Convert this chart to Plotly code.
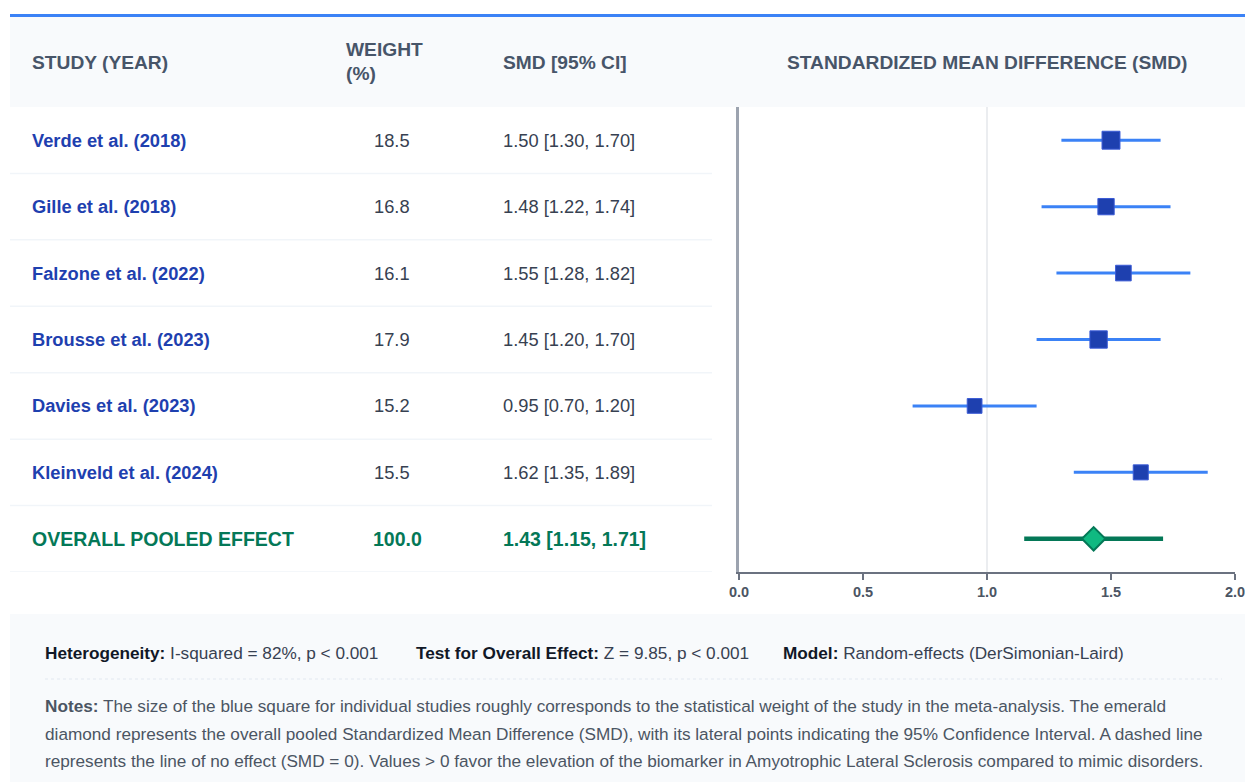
import plotly.graph_objects as go

# ---- data ----
studies = ["Verde et al. (2018)", "Gille et al. (2018)", "Falzone et al. (2022)",
           "Brousse et al. (2023)", "Davies et al. (2023)", "Kleinveld et al. (2024)"]
weights = [18.5, 16.8, 16.1, 17.9, 15.2, 15.5]
smd = [1.50, 1.48, 1.55, 1.45, 0.95, 1.62]
ci_low = [1.30, 1.22, 1.28, 1.20, 0.70, 1.35]
ci_high = [1.70, 1.74, 1.82, 1.70, 1.20, 1.89]

pooled_label = "OVERALL POOLED EFFECT"
pooled_weight = 100.0
pooled_smd = 1.43
pooled_low = 1.15
pooled_high = 1.71

x_ticks = [0.0, 0.5, 1.0, 1.5, 2.0]

W, H = 1245, 782
FONT = "Liberation Sans, Arial, Helvetica, sans-serif"

# the drawing surface sits 10px in from the page edge and is 1225px wide
PAGE_X0, PAGE_W = 10, 1225


def px(x):
    return (x - PAGE_X0) / PAGE_W


def py(y):
    return 1 - y / H


rows = list(range(len(studies)))
pooled_row = len(studies)

fig = go.Figure()

# individual study estimates with CI whiskers
fig.add_trace(go.Scatter(
    x=smd, y=rows, mode="markers",
    marker=dict(symbol="square", size=[w * 0.97 for w in weights], color="#1e40af", opacity=1,
                line=dict(color="#3b5bd6", width=1)),
    error_x=dict(type="data", symmetric=False,
                 array=[h - m for h, m in zip(ci_high, smd)],
                 arrayminus=[m - l for m, l in zip(smd, ci_low)],
                 color="#3b82f6", thickness=3, width=0),
    hoverinfo="skip", showlegend=False,
))

# pooled estimate
fig.add_trace(go.Scatter(
    x=[pooled_smd], y=[pooled_row], mode="markers",
    marker=dict(symbol="diamond", size=18, color="#10b981", opacity=1,
                line=dict(color="#047857", width=2)),
    error_x=dict(type="data", symmetric=False,
                 array=[pooled_high - pooled_smd], arrayminus=[pooled_smd - pooled_low],
                 color="#047857", thickness=4.5, width=0),
    hoverinfo="skip", showlegend=False,
))

shapes = []
# top accent line and header band
shapes.append(dict(type="rect", xref="paper", yref="paper", x0=px(10), x1=px(1245), y0=py(107), y1=py(17),
                   fillcolor="#f8fafc", line_width=0, layer="below"))
shapes.append(dict(type="line", xref="paper", yref="paper", x0=px(10), x1=px(1245), y0=py(15.5), y1=py(15.5),
                   line=dict(color="#3b82f6", width=3)))
# footer band
shapes.append(dict(type="rect", xref="paper", yref="paper", x0=px(10), x1=px(1245), y0=0, y1=py(614),
                   fillcolor="#f8fafc", line_width=0, layer="below"))
shapes.append(dict(type="line", xref="paper", yref="paper", x0=px(45), x1=px(1222), y0=py(679), y1=py(679),
                   line=dict(color="#e2e8f0", width=1, dash="dot")))
# row separators in the table
for i in range(len(studies) + 1):
    shapes.append(dict(type="line", xref="paper", yref="y", x0=px(10), x1=px(712), y0=i + 0.5, y1=i + 0.5,
                       line=dict(color="#f1f5f9", width=1.5), layer="below"))
# reference line at SMD = 1
shapes.append(dict(type="line", xref="x", yref="paper", x0=1, x1=1, y0=py(572), y1=py(107),
                   line=dict(color="#e5e7eb", width=1.5), layer="below"))

annotations = []


def txt(x, y, text, size=15, color="#374151", bold=False, yref="paper", xanchor="left"):
    annotations.append(dict(
        x=px(x), y=y, xref="paper", yref=yref, text=text, showarrow=False,
        xanchor=xanchor, yanchor="middle", borderpad=0, borderwidth=0,
        font=dict(family=FONT, size=size, color=color, weight="bold" if bold else "normal"),
    ))


# headers
HEAD = "#475569"
HS = 19.2
txt(32, py(62), "STUDY (YEAR)", size=HS, color=HEAD, bold=True)
txt(346, py(50), "WEIGHT", size=HS, color=HEAD, bold=True)
txt(346, py(73), "(%)", size=HS, color=HEAD, bold=True)
txt(503, py(62), "SMD [95% CI]", size=HS, color=HEAD, bold=True)
txt(987, py(62), "STANDARDIZED MEAN DIFFERENCE (SMD)", size=HS, color=HEAD, bold=True,
    xanchor="center")

# table rows
RS = 18.3
for i, (name, w, m, lo, hi) in enumerate(zip(studies, weights, smd, ci_low, ci_high)):
    txt(32, i, name, size=RS, color="#1e40af", bold=True, yref="y")
    txt(374, i, f"{w:.1f}", size=RS, color="#374151", yref="y")
    txt(503, i, f"{m:.2f} [{lo:.2f}, {hi:.2f}]", size=RS, color="#374151", yref="y")

GREEN = "#047857"
PS = 19.5
txt(32, pooled_row, pooled_label, size=PS, color=GREEN, bold=True, yref="y")
txt(373, pooled_row, f"{pooled_weight:.1f}", size=PS, color=GREEN, bold=True, yref="y")
txt(503, pooled_row, f"{pooled_smd:.2f} [{pooled_low:.2f}, {pooled_high:.2f}]",
    size=PS, color=GREEN, bold=True, yref="y")

# footer statistics
DARK = "#111827"
REG = "#374151"
FS = 17.2
txt(45, py(653), f"<b style='color:{DARK}'>Heterogeneity:</b> I-squared = 82%, p &lt; 0.001",
    size=FS, color=REG)
txt(416, py(653), f"<b style='color:{DARK}'>Test for Overall Effect:</b> Z = 9.85, p &lt; 0.001",
    size=FS, color=REG)
txt(783, py(653), f"<b style='color:{DARK}'>Model:</b> Random-effects (DerSimonian-Laird)",
    size=FS, color=REG)

notes = [
    "<b>Notes:</b> The size of the blue square for individual studies roughly corresponds to the "
    "statistical weight of the study in the meta-analysis. The emerald",
    "diamond represents the overall pooled Standardized Mean Difference (SMD), with its lateral points "
    "indicating the 95% Confidence Interval. A dashed line",
    "represents the line of no effect (SMD = 0). Values &gt; 0 favor the elevation of the biomarker in "
    "Amyotrophic Lateral Sclerosis compared to mimic disorders.",
]
for k, line in enumerate(notes):
    txt(45, py(706 + 27.5 * k), line, size=FS, color="#4b5563")

fig.update_layout(
    width=W, height=H,
    margin=dict(l=0, r=0, t=0, b=0),
    paper_bgcolor="white", plot_bgcolor="white",
    shapes=shapes, annotations=annotations,
    xaxis=dict(
        domain=[px(739), min(px(1236), 1.0)], range=[0, 2], tickvals=x_ticks,
        ticktext=[f"{t:.1f}" for t in x_ticks],
        showgrid=False, zeroline=False,
        showline=True, linecolor="#6b7280", linewidth=2,
        ticks="outside", ticklen=6, tickwidth=2, tickcolor="#6b7280",
        ticklabeloverflow="allow",
        tickfont=dict(family=FONT, size=14.5, color="#4b5563", weight="bold"),
    ),
    yaxis=dict(
        domain=[py(572), py(107)], range=[6.5, -0.5],
        showgrid=False, zeroline=False, showticklabels=False,
        showline=True, linecolor="#9ca3af", linewidth=3,
    ),
)

fig.write_html("out.html")
